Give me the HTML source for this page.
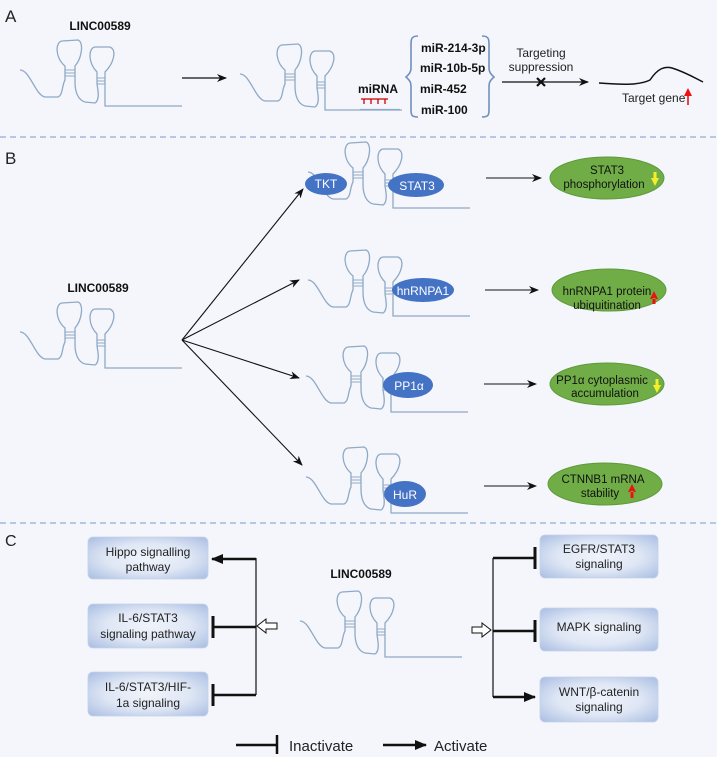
<!DOCTYPE html>
<html><head><meta charset="utf-8"><style>
html,body{margin:0;padding:0;background:#f4f6fb;}
svg{display:block;}
text{font-family:"Liberation Sans",Arial,sans-serif;}
</style></head><body>
<svg width="717" height="757" viewBox="0 0 717 757" xmlns="http://www.w3.org/2000/svg">
<defs>
<g id="rna" fill="none" stroke="#8fa9c6" stroke-width="1.3">
<path d="M0,30 C10,30 15,55 25,57 L38,57 C43,55 42,45 45,40 L45,26 C35,18 35,2 42,1 L58,0 C64,2 62,18 55,26 L55,42 C55,52 58,60 65,62 L75,63 C80,60 78,50 77,44 L77,32 C68,23 68,8 75,7 L90,7 C97,10 94,23 85,32 L85,66 L162,66"/>
<path d="M45,30 H55 M45,33 H55 M45,36 H55 M77,38 H85 M77,41 H85 M77,44 H85" stroke-width="1"/>
</g>
<marker id="ah" markerWidth="10" markerHeight="8" refX="9" refY="4" orient="auto" markerUnits="userSpaceOnUse"><path d="M0,0 L10,4 L0,8 L3,4 Z" fill="#111"/></marker>
<marker id="ahb" markerWidth="12" markerHeight="10" refX="11" refY="5" orient="auto" markerUnits="userSpaceOnUse"><path d="M0,0 L12,5 L0,10 Z" fill="#111"/></marker>
<radialGradient id="bx" cx="50%" cy="50%" r="70%"><stop offset="0" stop-color="#f0f4fb"/><stop offset="0.5" stop-color="#dfe7f5"/><stop offset="1" stop-color="#a9bde2"/></radialGradient>
</defs>

<!-- A -->
<text x="5" y="22" font-size="17" fill="#222">A</text>
<text x="100" y="30" font-size="12" font-weight="bold" text-anchor="middle" fill="#111">LINC00589</text>
<use href="#rna" x="20" y="40"/>
<line x1="182" y1="78" x2="226" y2="78" stroke="#111" stroke-width="1.2" marker-end="url(#ah)"/>
<use href="#rna" x="240" y="44"/>
<line x1="360" y1="109.5" x2="400" y2="109.5" stroke="#8fa9c6" stroke-width="1.3"/>
<text x="378" y="93" font-size="12" font-weight="bold" text-anchor="middle" fill="#111">miRNA</text>
<path d="M361,99 H388 M364,99 V104 M371,99 V104 M378,99 V104 M385,99 V104" stroke="#c00" stroke-width="1.3" fill="none"/>
<path d="M418,36 C410,36 411,40 411,50 L411,68 C411,73 408,75 406,77 C408,79 411,81 411,86 L411,104 C411,114 410,117 418,117" fill="none" stroke="#6f8fbf" stroke-width="1.6"/>
<path d="M482,36 C490,36 489,40 489,50 L489,68 C489,73 492,75 494,77 C492,79 489,81 489,86 L489,104 C489,114 490,117 482,117" fill="none" stroke="#6f8fbf" stroke-width="1.6"/>
<g font-size="12" font-weight="bold" fill="#111">
<text x="421" y="52">miR-214-3p</text>
<text x="420" y="72">miR-10b-5p</text>
<text x="420" y="93">miR-452</text>
<text x="421" y="114">miR-100</text>
</g>
<text x="541" y="57" font-size="12" text-anchor="middle" fill="#222">Targeting</text>
<text x="541" y="71" font-size="12" text-anchor="middle" fill="#222">suppression</text>
<line x1="502" y1="82" x2="588" y2="82" stroke="#111" stroke-width="1.2" marker-end="url(#ah)"/>
<path d="M537,78 L545,86 M545,78 L537,86" stroke="#111" stroke-width="2.2"/>
<path d="M599,83 C625,85 640,85 650,80 C658,68 665,66 672,68 C685,72 695,78 703,82" fill="none" stroke="#111" stroke-width="1.5"/>
<text x="622" y="102" font-size="12" fill="#222">Target gene</text>
<path d="M688,105 V94" stroke="#e11" stroke-width="1.6"/><path d="M684,96 L688,88 L692,96 Z" fill="#e11"/>

<line x1="0" y1="137" x2="717" y2="137" stroke="#8fb0d4" stroke-width="1.2" stroke-dasharray="6,4"/>

<!-- B -->
<text x="5" y="164" font-size="17" fill="#222">B</text>
<text x="98" y="292" font-size="12" font-weight="bold" text-anchor="middle" fill="#111">LINC00589</text>
<use href="#rna" x="20" y="302"/>
<g stroke="#111" stroke-width="1.1" marker-end="url(#ah)">
<line x1="182" y1="340" x2="303" y2="189"/>
<line x1="182" y1="340" x2="299" y2="280"/>
<line x1="182" y1="340" x2="299" y2="378"/>
<line x1="182" y1="340" x2="302" y2="465"/>
</g>
<use href="#rna" x="308" y="142"/>
<use href="#rna" x="308" y="250"/>
<use href="#rna" x="306" y="346"/>
<use href="#rna" x="306" y="447"/>
<g fill="#4472c4">
<ellipse cx="326" cy="184" rx="21" ry="11"/>
<ellipse cx="416" cy="185" rx="28" ry="12"/>
<ellipse cx="423" cy="290" rx="31" ry="12"/>
<ellipse cx="408" cy="385" rx="25" ry="13"/>
<ellipse cx="405" cy="494" rx="21" ry="13"/>
</g>
<g font-size="12" fill="#fff" text-anchor="middle">
<text x="326" y="188">TKT</text>
<text x="417" y="190">STAT3</text>
<text x="423" y="295">hnRNPA1</text>
<text x="409" y="390">PP1α</text>
<text x="405" y="499">HuR</text>
</g>
<g stroke="#111" stroke-width="1.1" marker-end="url(#ah)">
<line x1="486" y1="178" x2="541" y2="178"/>
<line x1="485" y1="290" x2="538" y2="290"/>
<line x1="484" y1="384" x2="536" y2="384"/>
<line x1="484" y1="486" x2="536" y2="486"/>
</g>
<g fill="#70ad47" stroke="#5f9a3a" stroke-width="1">
<ellipse cx="607" cy="178" rx="57" ry="21"/>
<ellipse cx="609" cy="290" rx="57" ry="21"/>
<ellipse cx="607" cy="384" rx="57" ry="21"/>
<ellipse cx="605" cy="484" rx="57" ry="21"/>
</g>
<g font-size="11.5" fill="#111" text-anchor="middle">
<text x="607" y="174">STAT3</text>
<text x="604" y="188">phosphorylation</text>
<text x="607" y="295">hnRNPA1  protein</text>
<text x="607" y="309">ubiquitination</text>
<text x="602" y="384">PP1α cytoplasmic</text>
<text x="605" y="397">accumulation</text>
<text x="603" y="483">CTNNB1  mRNA</text>
<text x="600" y="497">stability</text>
</g>
<path d="M651,178 L659,178 L655,186 Z M653.5,172 H656.5 V179 H653.5 Z" fill="#f5ef2b"/>
<path d="M650,299 L658,299 L654,291 Z M652.5,298 H655.5 V304 H652.5 Z" fill="#e11"/>
<path d="M653,385 L661,385 L657,393 Z M655.5,379 H658.5 V386 H655.5 Z" fill="#f5ef2b"/>
<path d="M628,492 L636,492 L632,484 Z M630.5,491 H633.5 V498 H630.5 Z" fill="#e11"/>

<line x1="0" y1="523" x2="717" y2="523" stroke="#8fb0d4" stroke-width="1.2" stroke-dasharray="6,4"/>

<!-- C -->
<text x="5" y="546" font-size="16" fill="#222">C</text>
<g fill="url(#bx)" stroke="#c3d1ea" stroke-width="0.8">
<rect x="88" y="537" width="120" height="42" rx="5"/>
<rect x="88" y="604" width="120" height="44" rx="5"/>
<rect x="88" y="672" width="120" height="44" rx="5"/>
<rect x="540" y="535" width="118" height="43" rx="5"/>
<rect x="540" y="608" width="118" height="43" rx="5"/>
<rect x="540" y="677" width="118" height="45" rx="5"/>
</g>
<g font-size="12" fill="#222" text-anchor="middle">
<text x="148" y="556">Hippo signalling</text>
<text x="148" y="571">pathway</text>
<text x="148" y="622">IL-6/STAT3</text>
<text x="148" y="638">signaling  pathway</text>
<text x="148" y="691">IL-6/STAT3/HIF-</text>
<text x="148" y="707">1a signaling</text>
<text x="599" y="553">EGFR/STAT3</text>
<text x="599" y="568">signaling</text>
<text x="599" y="631">MAPK signaling</text>
<text x="599" y="696">WNT/β-catenin</text>
<text x="599" y="711">signaling</text>
</g>
<text x="361" y="578" font-size="12" font-weight="bold" text-anchor="middle" fill="#111">LINC00589</text>
<use href="#rna" x="300" y="591"/>
<g stroke="#111" fill="none">
<line x1="256" y1="558" x2="256" y2="695" stroke-width="1.2"/>
<line x1="256" y1="559" x2="212" y2="559" stroke-width="2.5" marker-end="url(#ahb)"/>
<line x1="256" y1="627" x2="213" y2="627" stroke-width="2.5"/>
<line x1="213" y1="616" x2="213" y2="638" stroke-width="3"/>
<line x1="256" y1="695" x2="213" y2="695" stroke-width="2.5"/>
<line x1="213" y1="684" x2="213" y2="706" stroke-width="3"/>
<path d="M277,623 H266 V619 L257,626 L266,633 V629 H277 Z" stroke-width="1" fill="#fff"/>
<line x1="493" y1="558" x2="493" y2="697" stroke-width="1.2"/>
<line x1="493" y1="558" x2="535" y2="558" stroke-width="2.5"/>
<line x1="535" y1="547" x2="535" y2="569" stroke-width="3"/>
<line x1="493" y1="631" x2="535" y2="631" stroke-width="2.5"/>
<line x1="535" y1="620" x2="535" y2="642" stroke-width="3"/>
<line x1="493" y1="697" x2="535" y2="697" stroke-width="2.5" marker-end="url(#ahb)"/>
<path d="M472,627 H482 V623 L491,630 L482,637 V633 H472 Z" stroke-width="1" fill="#fff"/>
<line x1="236" y1="745" x2="277" y2="745" stroke-width="2.5"/>
<line x1="277" y1="735" x2="277" y2="754" stroke-width="2.5"/>
<line x1="383" y1="745" x2="426" y2="745" stroke-width="2.5" marker-end="url(#ahb)"/>
</g>
<text x="289" y="751" font-size="15" fill="#222">Inactivate</text>
<text x="434" y="751" font-size="15" fill="#222">Activate</text>
</svg>
</body></html>
